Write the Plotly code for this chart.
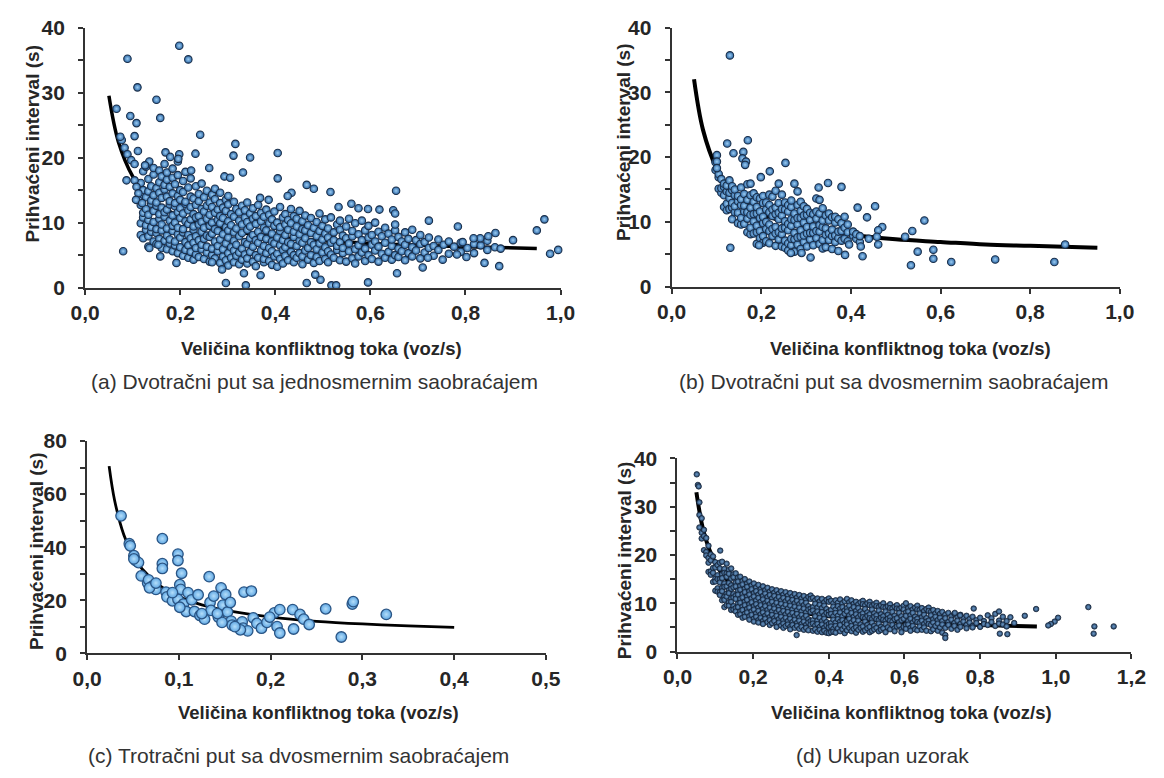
import plotly.graph_objects as go

W, H = 1164, 778
FONT = "Liberation Sans, Arial, sans-serif"

# ---------------- Panel (a) ----------------
a_fit_x = [0.05, 0.07, 0.1, 0.125, 0.15, 0.2, 0.25, 0.3, 0.4, 0.5, 0.6, 0.7, 0.8, 0.95]
a_fit_y = [29.5, 22.4, 17.1, 14.6, 13.0, 10.9, 9.7, 8.8, 7.8, 7.2, 6.8, 6.5, 6.3, 6.0]

a_out_x = [0.089, 0.198, 0.217, 0.110, 0.150, 0.066, 0.095, 0.108, 0.158, 0.104, 0.242, 0.077,
           0.111, 0.316, 0.312, 0.347, 0.405, 0.232, 0.169, 0.179, 0.198, 0.196, 0.135, 0.126,
           0.261, 0.223, 0.332, 0.405, 0.293, 0.305, 0.466, 0.481, 0.516, 0.654, 0.368, 0.386,
           0.434, 0.426, 0.560, 0.533, 0.575, 0.595, 0.619, 0.648, 0.652, 0.723, 0.784, 0.966,
           0.950, 0.900, 0.863, 0.848, 0.831, 0.817, 0.794, 0.782, 0.802, 0.840, 0.871, 0.874,
           0.978, 0.995, 0.752, 0.710, 0.721, 0.656, 0.595, 0.518, 0.528, 0.495, 0.484, 0.466,
           0.369, 0.334, 0.338, 0.296, 0.288, 0.267, 0.192, 0.158, 0.135, 0.080, 0.154, 0.074,
           0.083, 0.089, 0.097, 0.104, 0.087, 0.104, 0.108, 0.112, 0.107, 0.120]
a_out_y = [35.2, 37.2, 35.1, 30.8, 28.9, 27.5, 26.4, 25.3, 26.1, 23.3, 23.5, 22.7,
           21.0, 22.1, 20.3, 20.0, 20.7, 20.6, 20.8, 20.1, 20.5, 19.8, 19.4, 18.8,
           18.4, 18.0, 17.7, 16.8, 17.1, 16.9, 15.8, 15.2, 14.7, 14.9, 13.8, 13.5,
           14.6, 14.1, 12.9, 12.4, 12.2, 12.1, 12.0, 11.9, 11.4, 10.3, 9.4, 10.5,
           8.8, 7.3, 8.4, 7.9, 7.6, 7.6, 7.0, 5.1, 4.7, 3.8, 3.3, 6.0,
           5.2, 5.8, 4.3, 3.1, 4.6, 2.2, 0.8, 0.35, 0.35, 1.2, 2.0, 0.7,
           1.9, 2.2, 0.35, 0.7, 2.8, 3.9, 3.8, 4.8, 6.1, 5.6, 6.6, 23.2,
           21.5, 20.5, 19.6, 19.0, 16.5, 16.5, 15.5, 14.5, 13.5, 13.0]

a_col_x = [0.117, 0.122, 0.128, 0.133, 0.139,
           0.144, 0.150, 0.156, 0.161, 0.167,
           0.172, 0.178, 0.184, 0.189, 0.195,
           0.200, 0.206, 0.211, 0.217, 0.222,
           0.228, 0.233, 0.239, 0.245, 0.250,
           0.256, 0.262, 0.267, 0.273, 0.279,
           0.284, 0.290, 0.296, 0.301, 0.307,
           0.313, 0.318, 0.324, 0.330, 0.336,
           0.341, 0.347, 0.353, 0.359, 0.364,
           0.370, 0.376, 0.381, 0.387, 0.393,
           0.398, 0.404, 0.410, 0.416, 0.421,
           0.427, 0.433, 0.439, 0.445, 0.451,
           0.457, 0.463, 0.469, 0.475, 0.481,
           0.487, 0.493, 0.499, 0.505, 0.511,
           0.517, 0.523, 0.530, 0.536, 0.542,
           0.549, 0.555, 0.562, 0.568, 0.575,
           0.582, 0.589, 0.596, 0.603, 0.610,
           0.617, 0.624, 0.631, 0.638, 0.645,
           0.652, 0.659, 0.666, 0.673, 0.680,
           0.688, 0.696, 0.705, 0.714, 0.723,
           0.733, 0.743, 0.754, 0.765, 0.776,
           0.790, 0.804, 0.818, 0.832, 0.846,
           0.862]
a_col_y = [
    [8.1, 9.9, 12.7, 13.6, 16.1], [7.6, 10.8, 11.5, 14.3, 15.0, 17.9], [8.9, 9.6, 12.1, 13.9, 18.6],
    [6.3, 7.9, 10.4, 11.2, 14.8, 16.7, 19.1], [8.6, 9.3, 12.9, 13.4, 15.6],
    [7.1, 10.1, 11.8, 14.2, 17.4, 18.4], [6.7, 8.4, 9.0, 12.6, 13.1, 15.3], [7.5, 10.6, 11.3, 14.6, 16.2, 18.0],
    [6.1, 8.8, 9.7, 12.3, 13.8, 17.1], [7.2, 10.9, 11.6, 15.1, 15.8, 19.0],
    [5.9, 8.0, 9.1, 12.0, 14.0, 16.6, 17.7], [6.8, 7.4, 10.3, 12.8, 13.3, 15.5], [5.6, 8.7, 9.5, 11.1, 14.5, 16.9, 18.3],
    [6.5, 7.1, 10.0, 12.5, 13.0, 15.9], [5.3, 8.2, 9.2, 11.6, 14.1, 17.3, 19.4],
    [6.2, 7.7, 10.7, 12.2, 13.5, 15.0], [4.9, 8.5, 9.0, 11.4, 14.7, 16.4], [5.8, 7.0, 10.2, 12.9, 13.2, 17.8],
    [4.6, 6.5, 8.1, 9.8, 11.9, 15.4], [5.5, 7.6, 10.5, 12.4, 14.0, 16.8],
    [4.3, 6.9, 8.9, 9.4, 11.3, 13.7], [5.1, 6.1, 7.9, 10.8, 12.7, 15.6], [4.7, 7.3, 9.7, 11.0, 13.3, 14.4],
    [5.9, 6.6, 8.6, 10.1, 12.1, 16.0], [4.4, 7.5, 9.2, 11.7, 13.9],
    [5.4, 6.3, 8.0, 10.6, 12.6, 14.9], [4.0, 7.8, 9.5, 11.2, 13.1], [5.0, 6.0, 8.3, 10.0, 12.4, 14.3],
    [4.5, 7.1, 9.0, 11.5, 13.6, 15.2], [5.6, 6.4, 8.7, 10.4, 12.0],
    [3.8, 7.4, 9.9, 11.0, 13.0, 14.6], [4.8, 5.9, 8.2, 10.7, 12.3], [4.2, 6.8, 9.3, 11.8, 13.5],
    [3.4, 5.3, 7.7, 8.8, 10.2, 12.8, 14.1], [4.6, 6.2, 9.6, 11.3],
    [3.9, 5.7, 7.2, 8.5, 10.9, 13.2], [4.9, 6.6, 9.1, 12.1], [3.6, 5.4, 7.9, 10.3, 11.6],
    [4.3, 6.0, 8.4, 9.7, 12.6], [5.1, 7.0, 10.8, 11.9],
    [3.7, 4.5, 6.7, 8.9, 10.1, 13.1], [5.5, 7.6, 9.4, 11.4], [4.0, 6.3, 8.1, 10.6, 12.2],
    [3.3, 5.0, 7.3, 9.8, 11.0], [4.6, 6.9, 8.6, 12.7],
    [5.7, 7.8, 10.2, 11.5], [3.9, 4.4, 6.4, 9.2, 10.9], [5.3, 7.5, 8.8, 12.0],
    [4.1, 6.1, 9.9, 11.2], [3.5, 5.6, 7.1, 8.3, 10.5],
    [4.8, 6.8, 9.5, 11.7], [3.2, 5.2, 7.7, 10.0], [4.4, 6.5, 8.7, 9.3, 12.4],
    [3.7, 5.8, 7.3, 10.8], [4.9, 6.2, 8.1, 9.7, 11.3],
    [4.2, 7.0, 8.9, 10.4], [5.5, 6.7, 9.9, 12.1], [3.9, 5.0, 7.8, 8.6, 11.0],
    [4.6, 6.4, 9.4, 10.6], [5.3, 7.2, 8.2, 11.8],
    [3.6, 4.8, 6.9, 9.0, 10.2], [5.7, 7.6, 8.8, 11.1], [4.3, 6.1, 9.6],
    [5.0, 7.0, 8.4, 10.7], [3.8, 6.6, 9.2],
    [4.7, 5.9, 7.9, 10.1], [4.1, 6.8, 8.7, 11.4], [5.4, 7.4, 9.5],
    [4.4, 6.2, 8.3, 10.5], [3.9, 5.6, 7.7, 9.1],
    [5.1, 6.9, 10.8], [4.6, 7.3, 8.5], [5.8, 6.4, 9.7],
    [4.2, 7.0, 8.9, 10.3], [5.3, 6.1, 8.0],
    [4.0, 7.6, 9.4], [5.6, 6.8, 10.6], [4.5, 7.9, 8.7],
    [3.7, 5.9, 9.9], [4.8, 6.5, 8.2],
    [5.4, 7.3, 10.3], [4.1, 6.0, 8.8], [5.0, 7.7, 9.5],
    [4.4, 6.6, 8.1], [5.7, 7.1, 10.0],
    [4.0, 6.3, 8.6], [5.2, 7.9], [4.6, 6.9, 9.2],
    [5.5, 8.3], [4.3, 6.4, 7.4],
    [5.0, 8.8, 9.7], [4.7, 6.0, 7.8], [5.6, 7.1],
    [4.2, 6.6, 8.5], [5.3, 7.5],
    [4.8, 6.2, 8.9], [5.7, 7.3], [4.5, 6.7, 8.1],
    [5.4, 7.0], [6.1, 7.7],
    [4.9, 6.4], [5.8, 7.4], [6.6],
    [5.2, 7.1], [6.3],
    [5.5, 6.9], [6.1], [5.3, 6.7],
    [6.5], [5.8, 7.2],
    [6.2],
]

# ---------------- Panel (b) ----------------
b_fit_x = [0.05, 0.07, 0.1, 0.125, 0.15, 0.2, 0.25, 0.3, 0.4, 0.5, 0.6, 0.7, 0.8, 0.95]
b_fit_y = [32.0, 24.2, 18.3, 15.5, 13.7, 11.4, 10.0, 9.1, 8.0, 7.3, 6.9, 6.5, 6.3, 6.0]

b_out_x = [0.130, 0.124, 0.170, 0.138, 0.160, 0.158, 0.166, 0.164, 0.101, 0.101, 0.101, 0.219,
           0.254, 0.199, 0.131, 0.328, 0.349, 0.379, 0.415, 0.454, 0.436, 0.564, 0.537, 0.521,
           0.549, 0.584, 0.584, 0.534, 0.624, 0.722, 0.854, 0.878, 0.470, 0.461, 0.458, 0.461,
           0.426, 0.422, 0.387, 0.396, 0.310, 0.290, 0.266, 0.195]
b_out_y = [35.7, 22.1, 22.6, 20.6, 20.8, 19.8, 19.3, 18.8, 20.3, 19.3, 18.3, 17.8,
           19.1, 16.9, 6.0, 15.3, 16.0, 15.4, 12.2, 12.4, 10.7, 10.2, 8.6, 7.7,
           5.4, 5.7, 4.3, 3.3, 3.8, 4.2, 3.8, 6.5, 9.2, 8.7, 7.7, 6.5,
           4.7, 6.2, 4.9, 6.5, 4.5, 5.2, 5.2, 6.4]

b_col_x = [0.098, 0.105, 0.111, 0.117, 0.123, 0.129, 0.135, 0.141, 0.148, 0.155,
           0.162, 0.169, 0.176, 0.183, 0.190, 0.197, 0.204, 0.211, 0.218, 0.225,
           0.232, 0.239, 0.246, 0.253, 0.260, 0.267, 0.274, 0.281, 0.288, 0.295,
           0.302, 0.309, 0.316, 0.323, 0.330, 0.337, 0.344, 0.351, 0.358, 0.365,
           0.372, 0.379, 0.386, 0.393, 0.405, 0.412, 0.420, 0.440]
b_col_y = [
    [18.0, 19.2], [15.1, 16.9, 17.4], [14.5, 15.2, 16.6], [12.3, 14.1, 15.4, 15.9],
    [11.8, 12.8, 14.7, 15.6], [12.0, 13.7, 14.5, 16.4], [10.4, 12.2, 12.9, 14.9, 15.5],
    [11.5, 12.4, 14.1, 15.0], [9.8, 11.4, 13.2, 14.0], [9.6, 10.6, 12.6, 13.5, 15.3],
    [9.7, 11.6, 12.5, 14.3], [8.4, 10.5, 11.5, 13.4, 15.8], [8.1, 9.1, 11.1, 12.2, 14.1, 15.9],
    [8.2, 10.1, 11.2, 13.1, 14.4], [6.6, 8.4, 9.4, 11.3, 12.3, 13.8], [7.5, 8.6, 10.6, 11.6, 13.6],
    [6.8, 7.8, 9.8, 10.8, 12.9, 14.0], [7.0, 8.9, 10.0, 11.9, 13.0], [6.7, 8.6, 9.6, 11.5, 12.6, 14.2],
    [7.8, 8.9, 10.9, 11.9, 13.9], [6.3, 8.2, 9.2, 11.2, 12.2, 14.8], [7.3, 8.4, 10.4, 11.4, 12.9, 15.9],
    [6.2, 8.1, 9.0, 11.0, 12.0, 14.2], [6.0, 7.1, 9.1, 10.1, 11.9, 13.0], [5.6, 6.7, 8.7, 9.7, 11.6, 12.6],
    [6.4, 7.4, 9.4, 10.4, 12.3, 13.3], [5.4, 7.3, 8.3, 10.3, 11.3, 15.9], [6.5, 7.6, 9.6, 10.6, 12.6, 14.7],
    [5.8, 7.7, 8.7, 10.6, 11.7, 13.1], [6.9, 7.9, 9.9, 11.0, 12.4], [6.2, 8.2, 9.2, 11.1, 12.0],
    [7.3, 8.3, 10.3, 11.4], [6.4, 8.3, 9.3, 11.2], [7.5, 8.6, 10.5, 11.6, 13.6],
    [6.6, 8.5, 9.5, 11.3, 13.4], [5.9, 7.2, 9.2, 10.2, 12.1], [6.1, 8.0, 9.0, 11.0],
    [7.2, 8.2, 10.2, 11.3], [5.8, 7.8, 8.8, 10.7], [6.9, 7.9, 9.9, 10.8],
    [5.5, 7.5, 8.5, 10.4], [7.1, 8.6, 9.8], [7.4, 9.1, 10.8], [7.0, 8.4, 9.6],
    [7.9, 8.5], [7.4, 8.1], [6.9, 7.8], [7.4],
]

# ---------------- Panel (c) ----------------
c_fit_x = [0.024, 0.03, 0.04, 0.05, 0.06, 0.08, 0.1, 0.125, 0.15, 0.2, 0.25, 0.3, 0.35, 0.4]
c_fit_y = [70.5, 57.6, 44.7, 36.9, 31.8, 25.3, 21.4, 18.3, 16.3, 13.7, 12.1, 11.1, 10.4, 9.8]

c_x = [0.037, 0.046, 0.047, 0.051, 0.053, 0.056, 0.051, 0.059, 0.066, 0.067, 0.071, 0.075,
       0.068, 0.082, 0.082, 0.082, 0.086, 0.087, 0.093, 0.099, 0.099, 0.101, 0.102, 0.103,
       0.099, 0.105, 0.108, 0.110, 0.114, 0.121, 0.117, 0.123, 0.128, 0.133, 0.134, 0.138,
       0.135, 0.143, 0.146, 0.151, 0.148, 0.153, 0.156, 0.157, 0.158, 0.147, 0.142, 0.169,
       0.171, 0.179, 0.170, 0.175, 0.181, 0.185, 0.190, 0.196, 0.204, 0.210, 0.207, 0.210,
       0.224, 0.225, 0.232, 0.236, 0.242, 0.260, 0.277, 0.289, 0.290, 0.326, 0.199, 0.167,
       0.161, 0.125, 0.101, 0.093, 0.075]
c_y = [51.8, 41.3, 40.5, 36.8, 35.0, 34.2, 35.6, 29.2, 26.5, 27.7, 25.3, 24.1,
       24.7, 43.2, 33.8, 32.0, 23.1, 21.3, 19.8, 37.4, 35.0, 25.9, 24.1, 30.2,
       20.4, 18.6, 15.8, 22.9, 20.2, 22.1, 15.8, 14.3, 12.9, 28.9, 19.2, 21.6,
       16.2, 13.7, 24.7, 22.2, 18.2, 15.6, 19.2, 12.2, 10.7, 11.7, 15.0, 11.9,
       23.1, 23.5, 9.5, 8.5, 13.4, 11.3, 9.5, 11.7, 15.3, 16.5, 10.1, 7.7,
       16.5, 9.2, 14.7, 12.9, 10.9, 16.8, 6.2, 18.6, 19.5, 14.7, 13.7, 8.9,
       10.1, 15.0, 17.4, 22.9, 26.5]

# ---------------- Panel (d) ----------------
d_fit_x = [0.05, 0.07, 0.1, 0.125, 0.15, 0.2, 0.25, 0.3, 0.4, 0.5, 0.6, 0.7, 0.8, 0.95]
d_fit_y = [33.0, 24.6, 18.3, 15.4, 13.4, 11.0, 9.5, 8.5, 7.3, 6.6, 6.1, 5.8, 5.5, 5.2]

d_out_x = [0.051, 0.054, 0.056, 0.113, 0.315, 0.948, 0.918, 1.086, 1.102, 1.100, 1.153,
           1.006, 0.997, 0.987, 0.980, 0.872, 0.852, 0.783, 0.733, 0.747, 0.708]
d_out_y = [36.7, 34.5, 34.2, 20.9, 3.4, 8.8, 7.4, 9.2, 5.2, 3.7, 5.2,
           7.0, 6.2, 5.7, 5.4, 3.6, 3.7, 8.9, 8.0, 7.5, 2.8]

d_col_x = [0.058, 0.064, 0.070, 0.076, 0.082, 0.088, 0.094, 0.100, 0.106, 0.112,
           0.118, 0.124, 0.130, 0.136, 0.142, 0.148, 0.154, 0.160, 0.166, 0.172,
           0.178, 0.184, 0.190, 0.196, 0.202, 0.208, 0.214, 0.220, 0.226, 0.232,
           0.238, 0.244, 0.250, 0.256, 0.262, 0.268, 0.274, 0.280, 0.286, 0.292,
           0.298, 0.304, 0.310, 0.316, 0.322, 0.328, 0.334, 0.340, 0.346, 0.352,
           0.358, 0.364, 0.370, 0.376, 0.382, 0.388, 0.394, 0.400, 0.406, 0.412,
           0.418, 0.424, 0.430, 0.436, 0.442, 0.448, 0.454, 0.460, 0.466, 0.472,
           0.478, 0.484, 0.490, 0.496, 0.502, 0.508, 0.514, 0.520, 0.526, 0.532,
           0.538, 0.544, 0.550, 0.556, 0.562, 0.568, 0.574, 0.580, 0.586, 0.592,
           0.598, 0.604, 0.610, 0.616, 0.622, 0.628, 0.634, 0.640, 0.646, 0.652,
           0.658, 0.664, 0.670, 0.676, 0.682, 0.688, 0.694, 0.700, 0.708, 0.716,
           0.724, 0.732, 0.740, 0.748, 0.756, 0.764, 0.772, 0.780, 0.790, 0.800,
           0.810, 0.820, 0.830, 0.840, 0.850, 0.860, 0.870, 0.880, 0.890]
d_col_y = [
    [30.9, 28.3, 25.7], [27.6, 24.6, 23.4], [25.2, 23.9, 21.0], [23.5, 20.6, 19.9],
    [21.9, 19.4, 18.4, 16.5], [20.1, 18.9, 16.6, 15.9], [19.7, 17.3, 16.3, 14.4],
    [18.5, 17.4, 15.1, 14.5, 12.6], [17.9, 15.8, 15.0, 13.1, 12.4],
    [18.4, 17.2, 15.0, 14.3, 12.3, 11.7], [18.6, 16.0, 15.2, 13.2, 12.5, 10.6],
    [17.1, 16.3, 14.1, 13.4, 11.3, 10.7, 9.2], [18.2, 16.2, 15.5, 13.5, 12.0, 11.4, 9.6],
    [16.9, 16.1, 14.2, 12.7, 12.1, 10.2, 9.5], [17.2, 15.1, 13.7, 13.0, 11.0, 10.3, 8.6],
    [16.0, 15.4, 13.3, 11.9, 11.2, 9.4, 8.7], [16.2, 14.3, 13.5, 11.6, 10.9, 9.0, 8.3],
    [15.3, 14.5, 12.6, 11.8, 9.9, 9.2, 7.6], [15.5, 13.6, 12.8, 10.9, 10.1, 8.3, 7.7],
    [14.6, 13.9, 11.9, 11.2, 9.3, 8.6, 7.0], [15.0, 13.0, 12.3, 10.3, 9.6, 7.8, 7.2],
    [14.1, 13.4, 11.4, 10.7, 8.8, 8.1], [14.5, 12.5, 11.8, 9.8, 9.1, 7.3, 6.6],
    [13.7, 12.9, 11.0, 10.2, 8.3, 7.6], [14.1, 12.1, 11.4, 9.4, 8.7, 6.8, 6.2],
    [13.3, 12.5, 10.6, 9.8, 7.9, 7.2], [13.8, 11.8, 11.1, 9.1, 8.4, 6.5, 6.0],
    [12.9, 12.3, 10.3, 9.6, 7.7, 7.0], [13.5, 11.5, 10.8, 8.8, 8.1, 6.3, 5.7],
    [12.7, 12.0, 10.0, 9.4, 7.4, 6.8], [13.2, 11.3, 10.5, 8.6, 7.9, 6.1],
    [12.4, 11.7, 9.8, 9.1, 7.1, 6.5, 5.5], [12.9, 11.0, 10.3, 8.3, 7.6, 5.9],
    [12.2, 11.5, 9.5, 8.9, 6.9, 6.3], [12.7, 10.8, 10.1, 8.1, 7.4, 5.6, 5.1],
    [12.0, 11.3, 9.3, 8.6, 6.7, 6.0], [12.5, 10.6, 9.9, 7.9, 7.2, 5.4],
    [11.8, 11.1, 9.1, 8.4, 6.5, 5.8, 4.9], [12.3, 10.4, 9.7, 7.7, 7.0, 5.3],
    [11.6, 10.9, 8.9, 8.2, 6.3, 5.6], [12.1, 10.2, 9.5, 7.5, 6.8, 5.1, 4.6],
    [11.4, 10.7, 8.7, 8.0, 6.1, 5.5], [11.9, 10.0, 9.3, 7.3, 6.6, 4.9],
    [11.2, 10.5, 8.5, 7.8, 5.9, 5.3], [11.7, 9.8, 9.1, 7.1, 6.4, 4.7],
    [11.0, 10.3, 8.3, 7.6, 5.7, 5.1], [11.5, 9.6, 8.9, 6.9, 6.2, 4.5],
    [10.8, 10.1, 8.1, 7.4, 5.5, 4.9], [11.3, 9.4, 8.7, 6.7, 6.0, 4.4],
    [11.6, 10.9, 8.9, 8.2, 6.3, 5.6], [11.1, 9.2, 8.5, 6.5, 5.8, 4.3],
    [10.6, 9.9, 7.9, 7.3, 5.4, 4.6], [11.0, 9.1, 8.3, 6.4, 5.7, 4.1],
    [10.4, 9.7, 7.7, 7.0, 5.1, 4.5], [10.9, 9.0, 8.2, 6.3, 5.6, 4.0],
    [10.2, 9.5, 7.5, 6.8, 4.9, 4.3], [10.7, 8.8, 8.0, 6.1, 5.4, 3.9],
    [11.0, 10.3, 8.3, 7.6, 5.7, 5.0, 3.8], [10.5, 8.6, 7.8, 5.9, 5.2, 4.0],
    [10.0, 9.3, 7.3, 6.6, 4.7, 4.1], [10.6, 8.7, 8.0, 6.0, 5.3, 3.9],
    [10.1, 9.4, 7.4, 6.7, 4.8], [10.8, 8.9, 8.1, 6.2, 5.5, 4.2],
    [10.0, 9.2, 7.3, 6.5, 4.6], [10.4, 8.5, 7.8, 5.9, 5.1, 3.8],
    [10.9, 9.0, 8.3, 6.3, 5.6, 4.4], [10.2, 9.5, 7.5, 6.8, 4.9],
    [10.6, 8.7, 8.0, 6.0, 5.3, 4.2], [9.9, 9.2, 7.2, 6.5, 4.7],
    [10.3, 8.4, 7.7, 5.7, 5.0, 3.9], [9.8, 9.0, 7.1, 6.4, 4.5],
    [10.2, 8.3, 7.6, 5.6, 4.9], [10.5, 9.8, 7.9, 7.1, 5.2, 4.1],
    [9.6, 8.8, 6.9, 6.2, 4.4], [10.0, 8.1, 7.4, 5.5, 4.8],
    [10.3, 9.6, 7.7, 6.9, 5.1, 4.0], [9.4, 8.7, 6.7, 6.0, 4.3],
    [9.8, 7.9, 7.2, 5.3, 4.6], [10.1, 9.4, 7.5, 6.7, 4.9],
    [9.2, 8.5, 6.5, 5.8, 4.2], [9.6, 7.7, 7.0, 5.1, 4.5],
    [10.0, 9.2, 7.3, 6.6, 4.8], [9.1, 8.3, 6.4, 5.7, 4.0],
    [9.4, 7.6, 6.8, 5.0], [9.8, 9.0, 7.1, 6.4, 4.6],
    [8.9, 8.2, 6.2, 5.5], [9.3, 7.4, 6.7, 4.8, 4.2],
    [9.6, 8.9, 6.9, 5.2], [8.8, 8.0, 6.1, 5.4],
    [9.1, 7.3, 6.5, 4.6, 4.0], [9.5, 8.7, 6.8, 5.1],
    [10.0, 8.1, 7.4, 5.5, 4.7], [9.0, 8.3, 6.3, 5.6],
    [9.4, 7.5, 6.8, 4.9, 4.3], [8.7, 8.0, 6.0, 5.3],
    [9.1, 7.2, 6.5, 4.6], [9.5, 8.7, 6.8, 6.1, 4.4],
    [8.6, 7.9, 5.9, 5.2], [9.0, 7.1, 6.4, 4.5],
    [8.4, 7.6, 5.7, 5.0], [8.8, 6.9, 6.2, 4.3],
    [9.1, 8.4, 6.4, 5.7], [8.2, 7.5, 5.5, 4.2],
    [8.6, 6.7, 6.0, 4.6], [7.9, 7.2, 5.3],
    [8.4, 6.5, 5.8, 4.3], [7.8, 7.0, 5.0],
    [8.2, 6.3, 5.6, 3.9], [7.6, 6.9, 4.9, 3.4],
    [8.0, 6.1, 5.5], [7.3, 6.6, 4.7],
    [7.8, 5.9, 5.3], [7.1, 6.4, 4.5],
    [7.6, 5.7, 5.1], [6.9, 6.2],
    [7.4, 5.5, 4.8], [6.7, 6.0],
    [7.2, 5.3, 5.0], [6.5, 5.9],
    [7.0, 5.1], [6.3, 5.7],
    [7.5, 5.5], [6.9, 6.1],
    [7.8, 5.3], [8.3, 6.4, 5.8],
    [7.2, 5.6], [6.3, 5.2],
    [7.1], [5.9],
]

# ---------------- tick labels ----------------
a_xt_vals = [0.0, 0.2, 0.4, 0.6, 0.8, 1.0]
a_xt_text = ["0,0", "0,2", "0,4", "0,6", "0,8", "1,0"]
c_xt_vals = [0.0, 0.1, 0.2, 0.3, 0.4, 0.5]
c_xt_text = ["0,0", "0,1", "0,2", "0,3", "0,4", "0,5"]
d_xt_vals = [0.0, 0.2, 0.4, 0.6, 0.8, 1.0, 1.2]
d_xt_text = ["0,0", "0,2", "0,4", "0,6", "0,8", "1,0", "1,2"]
y40_vals = [0, 5, 10, 15, 20, 25, 30, 35, 40]
y40_text = ["0", "", "10", "", "20", "", "30", "", "40"]
y80_vals = [0, 10, 20, 30, 40, 50, 60, 70, 80]
y80_text = ["0", "", "20", "", "40", "", "60", "", "80"]

x_title = "Veličina konfliktnog toka (voz/s)"
y_title = "Prihvaćeni interval (s)"
captions = ["(a) Dvotračni put sa jednosmernim saobraćajem",
            "(b) Dvotračni put sa dvosmernim saobraćajem",
            "(c) Trotračni put sa dvosmernim saobraćajem",
            "(d) Ukupan uzorak"]


def expand(cx, cy):
    xs, ys = [], []
    for x, col in zip(cx, cy):
        for y in col:
            xs.append(x)
            ys.append(y)
    return xs, ys


def px(v):
    return v / W


def py(v):
    return 1 - v / H


fig = go.Figure()

AX = "#333333"
TICKFONT = dict(family=FONT, size=21, color="#262626", weight="bold")

panels = [
    dict(n="", dx=(72, 560), dy=(16, 284), xr=[0, 1.0], yr=[0, 40],
         xv=a_xt_vals, xtx=a_xt_text, yv=y40_vals, ytx=y40_text),
    dict(n="2", dx=(674, 1134), dy=(16, 283), xr=[0, 1.0], yr=[0, 40],
         xv=a_xt_vals, xtx=a_xt_text, yv=y40_vals, ytx=y40_text),
    dict(n="3", dx=(74, 545), dy=(442, 661), xr=[0, 0.5], yr=[0, 80],
         xv=c_xt_vals, xtx=c_xt_text, yv=y80_vals, ytx=y80_text),
    dict(n="4", dx=(680, 1146), dy=(460, 659), xr=[0, 1.2], yr=[0, 40],
         xv=d_xt_vals, xtx=d_xt_text, yv=y40_vals, ytx=y40_text),
]

layout_axes = {}
for p in panels:
    n = p["n"]
    layout_axes["xaxis" + n] = dict(
        domain=[px(p["dx"][0]), px(p["dx"][1])], range=p["xr"], anchor="y" + n,
        showgrid=False, zeroline=False, showline=True, linecolor=AX, linewidth=2,
        ticks="outside", ticklen=5, tickwidth=2, tickcolor=AX,
        tickvals=p["xv"], ticktext=p["xtx"], tickfont=TICKFONT, ticklabelstandoff=0)
    layout_axes["yaxis" + n] = dict(
        domain=[py(p["dy"][1]), py(p["dy"][0])], range=p["yr"], anchor="x" + n,
        showgrid=False, zeroline=False, showline=True, linecolor=AX, linewidth=2,
        ticks="outside", ticklen=5, tickwidth=2, tickcolor=AX,
        tickvals=p["yv"], ticktext=p["ytx"], tickfont=TICKFONT, ticklabelstandoff=9)


def add_fit(x, y, n, w):
    fig.add_trace(go.Scatter(x=x, y=y, mode="lines", line=dict(color="black", width=w, shape="spline"),
                             xaxis="x" + n, yaxis="y" + n, showlegend=False, hoverinfo="skip"))


def add_pts(x, y, n, size, fill, center, edge, lw):
    fig.add_trace(go.Scatter(x=x, y=y, mode="markers", xaxis="x" + n, yaxis="y" + n,
                             showlegend=False, cliponaxis=False,
                             marker=dict(size=size, color=fill,
                                         gradient=dict(type="radial", color=center),
                                         line=dict(color=edge, width=lw))))


# (a)
add_fit(a_fit_x, a_fit_y, "", 3.5)
ax_, ay_ = expand(a_col_x, a_col_y)
add_pts(ax_ + a_out_x, ay_ + a_out_y, "", 7.5, "#2f6aa8", "#9ccdf3", "#1a2f4a", 1.1)
# (b)
add_fit(b_fit_x, b_fit_y, "2", 4)
bx_, by_ = expand(b_col_x, b_col_y)
add_pts(bx_ + b_out_x, by_ + b_out_y, "2", 7.5, "#2f6aa8", "#9ccdf3", "#1a2f4a", 1.1)
# (c)
add_fit(c_fit_x, c_fit_y, "3", 2.8)
add_pts(c_x, c_y, "3", 10.5, "#5ea6e2", "#b4defa", "#2a5585", 1.3)
# (d)
add_fit(d_fit_x, d_fit_y, "4", 4)
dx_, dy_ = expand(d_col_x, d_col_y)
add_pts(dx_ + d_out_x, dy_ + d_out_y, "4", 5.5, "#28476b", "#6b98c6", "#142236", 0.8)

annotations = []
for cx, cy in [(315, 347), (919, 347), (312, 722), (920, 722)]:
    annotations.append(dict(x=px(cx), y=py(cy), xref="paper", yref="paper", text=x_title,
                            showarrow=False, xanchor="center", yanchor="middle",
                            font=dict(family=FONT, size=18.5, color="#262626", weight="bold")))
for cx, cy in [(18, 136), (624, 134), (22, 556), (625, 565)]:
    annotations.append(dict(x=px(cx), y=py(cy), xref="paper", yref="paper", text=y_title,
                            showarrow=False, xanchor="center", yanchor="middle", textangle=-90,
                            font=dict(family=FONT, size=19, color="#262626", weight="bold")))
for (cx, cy), t in zip([(307, 381), (902, 381), (291, 766), (890, 766)], captions):
    annotations.append(dict(x=px(cx), y=py(cy), xref="paper", yref="paper", text=t,
                            showarrow=False, xanchor="center", yanchor="middle",
                            font=dict(family=FONT, size=21, color="#333333")))

fig.update_layout(width=W, height=H, margin=dict(l=0, r=0, t=0, b=0),
                  paper_bgcolor="white", plot_bgcolor="white",
                  annotations=annotations, **layout_axes)

fig.write_html("out.html")
